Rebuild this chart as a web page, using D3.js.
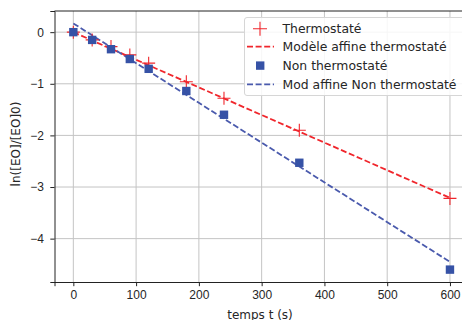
<!DOCTYPE html>
<html>
<head>
<meta charset="utf-8">
<script src="https://cdn.jsdelivr.net/npm/d3@7"></script>
<style>
  body { margin: 0; background: #fff; }
  svg { display: block; font-family: "DejaVu Sans", sans-serif; }
  .tick text { font-size: 12px; fill: #262626; }
</style>
</head>
<body>
<div id="graph"></div>
<script>
// temps (s)
const times = [0, 30, 60, 90, 120, 180, 240, 360, 600];
// ln([EO]/[EO]0)
const thermo = [0, -0.15, -0.28, -0.44, -0.60, -0.96, -1.28, -1.90, -3.22];
const nonThermo = [0, -0.15, -0.33, -0.52, -0.71, -1.14, -1.60, -2.53, -4.60];
// fitted lines, end points only
const fitT = [0, 600];
const fitThermo = [0.0, -3.21];
const fitNonThermo = [0.17, -4.45];

const xTicks = [0, 100, 200, 300, 400, 500, 600];
const yTicks = [0, -1, -2, -3, -4];
const legendLabels = ['Thermostaté', 'Modèle affine thermostaté', 'Non thermostaté', 'Mod affine Non thermostaté'];

const W = 462, H = 320;
const RED = '#f0262c', BLUE = '#3652a6', BLUE_LINE = '#4a5aad';
const DASH = '6,2.6';

const svg = d3.select('#graph').append('svg')
    .attr('width', W).attr('height', H);

const x = d3.scaleLinear().domain([-30, 630]).range([54.5, 468.8]);
const y = d3.scaleLinear().domain([0.41, -4.84]).range([11, 282]);

// grid
svg.append('g')
  .selectAll('line')
  .data(xTicks)
  .join('line')
    .attr('x1', d => x(d)).attr('x2', d => x(d))
    .attr('y1', 11).attr('y2', 282)
    .attr('stroke', '#c4c4c4').attr('stroke-width', 1);
svg.append('g')
  .selectAll('line')
  .data(yTicks)
  .join('line')
    .attr('x1', 54.5).attr('x2', 468.8)
    .attr('y1', d => y(d)).attr('y2', d => y(d))
    .attr('stroke', '#c4c4c4').attr('stroke-width', 1);

// axes
const xAxis = svg.append('g')
    .attr('transform', 'translate(0,282)')
    .call(d3.axisBottom(x).tickValues(xTicks).tickSize(4.2).tickPadding(4.6).tickFormat(d3.format('d')));
const yAxis = svg.append('g')
    .attr('transform', 'translate(54.5,0)')
    .call(d3.axisLeft(y).tickValues(yTicks).tickSize(4.2).tickPadding(6.5)
      .tickFormat(d => d < 0 ? '\u2212' + Math.abs(d) : d));
[xAxis, yAxis].forEach(g => {
    g.select('.domain').attr('stroke', '#222').attr('stroke-width', 1);
    g.selectAll('.tick line').attr('stroke', '#222').attr('stroke-width', 1);
});
// top spine
svg.append('line')
    .attr('x1', 54.5).attr('x2', 468.8).attr('y1', 11).attr('y2', 11)
    .attr('stroke', '#222').attr('stroke-width', 1);

// fit lines
const line = d3.line().x(d => x(d[0])).y(d => y(d[1]));
svg.append('path')
    .datum(d3.zip(fitT, fitThermo))
    .attr('d', line)
    .attr('fill', 'none').attr('stroke', RED).attr('stroke-width', 1.8)
    .attr('stroke-dasharray', DASH);
svg.append('path')
    .datum(d3.zip(fitT, fitNonThermo))
    .attr('d', line)
    .attr('fill', 'none').attr('stroke', BLUE_LINE).attr('stroke-width', 1.8)
    .attr('stroke-dasharray', DASH);

// plus markers
function plusPath(cx, cy, r) {
    return `M${cx - r},${cy}H${cx + r}M${cx},${cy - r}V${cy + r}`;
}
svg.append('g')
  .selectAll('path')
  .data(d3.zip(times, thermo))
  .join('path')
    .attr('d', d => plusPath(x(d[0]), y(d[1]), 6.5))
    .attr('stroke', RED).attr('stroke-width', 1.1).attr('fill', 'none');

// squares
svg.append('g')
  .selectAll('rect')
  .data(d3.zip(times, nonThermo))
  .join('rect')
    .attr('x', d => x(d[0]) - 4.2).attr('y', d => y(d[1]) - 4.2)
    .attr('width', 8.4).attr('height', 8.4)
    .attr('fill', BLUE);

// legend
const lg = svg.append('g');
lg.append('rect')
    .attr('x', 244.5).attr('y', 17.5).attr('width', 220).attr('height', 78)
    .attr('rx', 2.5)
    .attr('fill', 'rgba(255,255,255,0.85)').attr('stroke', '#d6d6d6');
const rowY = [28.8, 46.6, 65.6, 84.3];
lg.append('path').attr('d', plusPath(260, rowY[0], 7))
    .attr('stroke', RED).attr('stroke-width', 1.1).attr('fill', 'none');
lg.append('line').attr('x1', 247).attr('x2', 274).attr('y1', rowY[1]).attr('y2', rowY[1])
    .attr('stroke', RED).attr('stroke-width', 1.8).attr('stroke-dasharray', DASH);
lg.append('rect').attr('x', 256).attr('y', rowY[2] - 4.2).attr('width', 8.4).attr('height', 8.4)
    .attr('fill', BLUE);
lg.append('line').attr('x1', 247).attr('x2', 274).attr('y1', rowY[3]).attr('y2', rowY[3])
    .attr('stroke', BLUE_LINE).attr('stroke-width', 1.8).attr('stroke-dasharray', DASH);
lg.selectAll('text.lab')
  .data(legendLabels)
  .join('text')
    .attr('class', 'lab')
    .attr('x', 282.5).attr('y', (d, i) => rowY[i])
    .attr('dy', '0.35em')
    .attr('font-size', 12.4).attr('fill', '#262626')
    .text(d => d);

// axis labels
svg.append('text')
    .attr('x', 260).attr('y', 318.5)
    .attr('text-anchor', 'middle').attr('font-size', 12).attr('fill', '#262626')
    .text('temps t (s)');
svg.append('text')
    .attr('transform', 'translate(19.5,144) rotate(-90)')
    .attr('text-anchor', 'middle').attr('font-size', 12).attr('fill', '#262626')
    .text('ln([EO]/[EO]0)');
</script>
</body>
</html>
